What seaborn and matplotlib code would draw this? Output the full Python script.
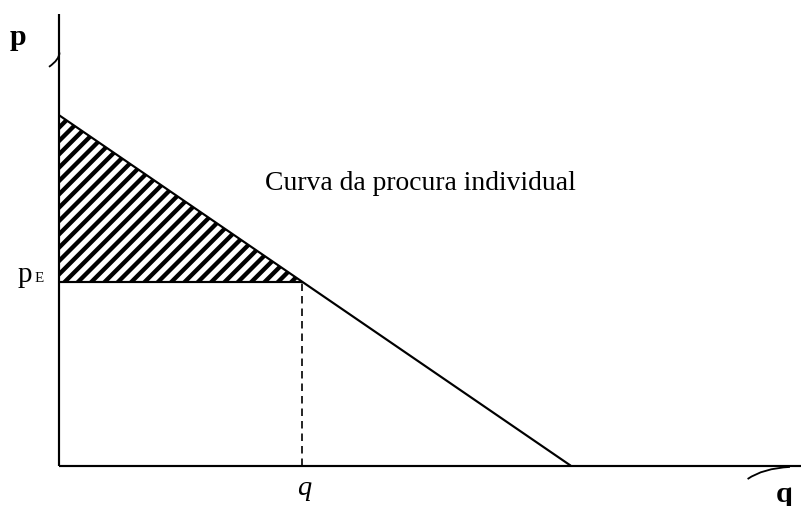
import matplotlib
matplotlib.use("Agg")
import matplotlib.pyplot as plt
from matplotlib.path import Path
from matplotlib.patches import PathPatch
import seaborn as sns

# ---- data (economic units) ----
demand_q = [0.0, 14.6]      # quantity at p_max, quantity at p = 0
demand_p = [10.0, 0.0]      # price intercept, zero price
p_E = 5.25                  # equilibrium price
q_E = 6.93                  # quantity demanded at p_E
surplus_q = [0.0, q_E]
surplus_top = [10.0, p_E]

label_p = "p"
label_q = "q"
label_pE = ("p", "E")
label_qE = "q"
curve_label = "Curva da procura individual"

# ---- style ----
sns.set_style("white")
plt.rcParams["font.family"] = ["Liberation Serif", "DejaVu Serif"]
plt.rcParams["text.color"] = "black"
plt.rcParams["hatch.linewidth"] = 2.6
plt.rcParams["hatch.color"] = "black"

DPI = 120
fig = plt.figure(figsize=(801 / DPI, 507 / DPI), dpi=DPI)
ax = fig.add_axes([0, 0, 1, 1])
ax.set_xlim(-1.7, 21.186)
ax.set_ylim(-1.157, 13.329)
ax.axis("off")

lw = 1.3
# axes of the diagram
y_axis_top = 12.9
x_axis_end = 21.2
ax.plot([0, 0], [0, y_axis_top], color="black", lw=lw, solid_capstyle="butt")
ax.plot([0, x_axis_end], [0, 0], color="black", lw=lw, solid_capstyle="butt")

# small curls at the axis ends
top_curl = Path([(0.0, 11.8), (0.0, 11.6), (-0.30, 11.39)],
                [Path.MOVETO, Path.CURVE3, Path.CURVE3])
ax.add_patch(PathPatch(top_curl, fc="none", ec="black", lw=1.1))
right_curl = Path([(20.87, -0.04), (20.1, -0.08), (19.66, -0.386)],
                  [Path.MOVETO, Path.CURVE3, Path.CURVE3])
ax.add_patch(PathPatch(right_curl, fc="none", ec="black", lw=1.1))

# hatched consumer surplus
ax.fill_between(surplus_q, p_E, surplus_top, facecolor="none",
                edgecolor="black", hatch="///", linewidth=0)

# demand curve
sns.lineplot(x=demand_q, y=demand_p, color="black", lw=lw, ax=ax,
             legend=False, sort=False)

# equilibrium guides
ax.plot([0, q_E], [p_E, p_E], color="black", lw=lw, solid_capstyle="butt")
ax.plot([q_E, q_E], [0, p_E], color="black", lw=1.0,
        linestyle=(0, (4.5, 3)))

# texts
ax.text(-1.19, 12.04, label_p, fontsize=18, fontweight="bold",
        ha="center", va="baseline", color="black")
ax.text(20.7, -1.01, label_q, fontsize=18, fontweight="bold",
        ha="center", va="baseline", color="black")
ax.text(-1.19, p_E + 0.03, label_pE[0], fontsize=17.5, ha="left",
        va="baseline", color="black")
ax.text(-0.72, p_E + 0.03, label_pE[1], fontsize=9, ha="left",
        va="baseline", color="black")
ax.text(q_E + 0.05, -0.81, label_qE, fontsize=17, fontstyle="italic",
        ha="center", va="baseline", color="black")
ax.text(5.87, 7.9, curve_label, fontsize=16.6, ha="left", va="baseline",
        color="black")

fig.savefig("out.png", dpi=DPI)
